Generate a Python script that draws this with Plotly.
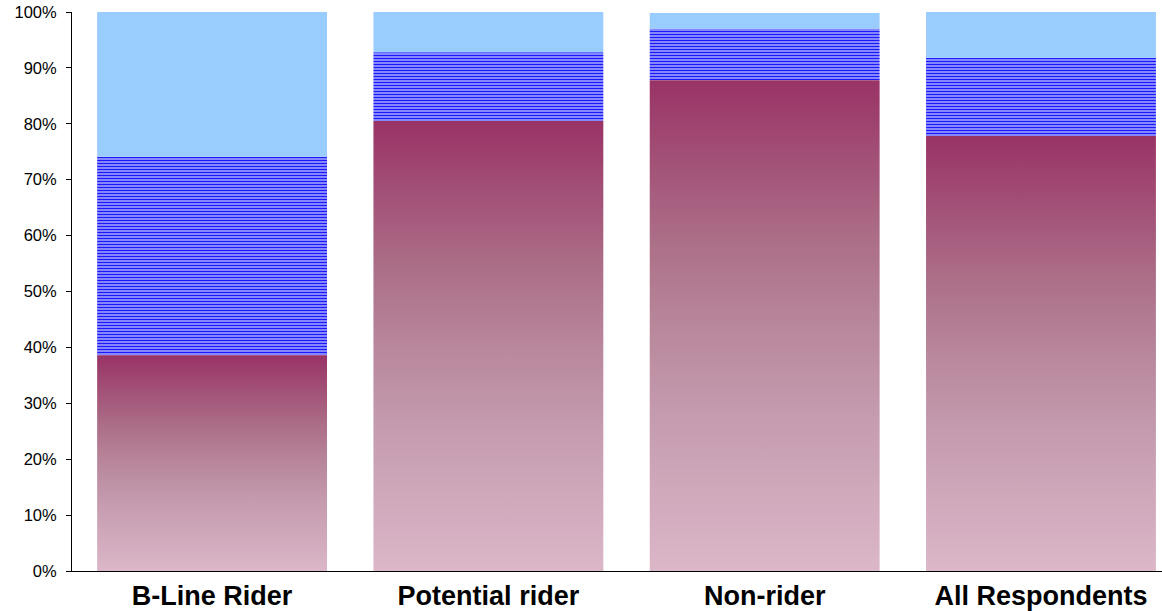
import plotly.graph_objects as go

# Survey groups and their response shares (percent)
categories = ["B-Line Rider", "Potential rider", "Non-rider", "All Respondents"]
share_low = [38.6, 80.5, 87.8, 77.8]     # bottom segment (gradient)
share_mid = [35.5, 12.3, 9.2, 14.0]      # middle segment (striped)
share_top = [25.9, 7.2, 2.8, 8.2]        # top segment (light blue)
y_ticks = [0, 10, 20, 30, 40, 50, 60, 70, 80, 90, 100]

BAR_W = 0.832
xs = list(range(len(categories)))

fig = go.Figure()

# Bottom segment: vertical gradient fills from each bar's base to its value
gradient = [[0.0, "#DBB7C8"], [0.33, "#C49AAE"], [0.5, "#B8879B"],
            [0.67, "#AC6F88"], [1.0, "#993366"]]
for x, v in zip(xs, share_low):
    fig.add_trace(go.Scatter(
        x=[x - BAR_W / 2, x + BAR_W / 2, x + BAR_W / 2, x - BAR_W / 2, x - BAR_W / 2],
        y=[0, 0, v, v, 0],
        mode="lines", line=dict(width=0), fill="toself",
        fillgradient=dict(type="vertical", start=0, stop=v, colorscale=gradient),
        hoverinfo="skip", showlegend=False,
    ))

# Middle segment: horizontal stripe pattern
fig.add_trace(go.Bar(
    x=xs, y=share_mid, base=share_low, width=BAR_W,
    marker=dict(color="#9999FF", line=dict(width=0),
                pattern=dict(shape="-", size=3, solidity=0.45,
                             fgcolor="#1A1AFF", bgcolor="#9C9CFF", fillmode="replace")),
    showlegend=False,
))

# Top segment
fig.add_trace(go.Bar(
    x=xs, y=share_top, base=[a + b for a, b in zip(share_low, share_mid)], width=BAR_W,
    marker=dict(color="#99CCFF", line=dict(width=0)),
    showlegend=False,
))

fig.update_layout(
    width=1162, height=611,
    margin=dict(l=72, r=0, t=12, b=40),
    paper_bgcolor="white", plot_bgcolor="white",
    barmode="overlay",
    font=dict(family="Liberation Sans, Arial, sans-serif", color="black"),
    xaxis=dict(
        range=[-0.507, 3.438], tickvals=xs, ticktext=categories,
        showgrid=False, zeroline=False, showline=True, linecolor="black", linewidth=1,
        ticks="", tickfont=dict(size=27, family="Liberation Sans, Arial, sans-serif",
                                weight="bold"),
        ticklabelstandoff=1,
    ),
    yaxis=dict(
        range=[0, 100], tickvals=y_ticks, ticktext=[f"{t}%" for t in y_ticks],
        showgrid=False, zeroline=False, showline=True, linecolor="black", linewidth=1,
        ticks="outside", ticklen=5, tickcolor="black", tickwidth=1,
        tickfont=dict(size=16.5), ticklabelstandoff=6,
    ),
)

fig.write_html("out.html")
